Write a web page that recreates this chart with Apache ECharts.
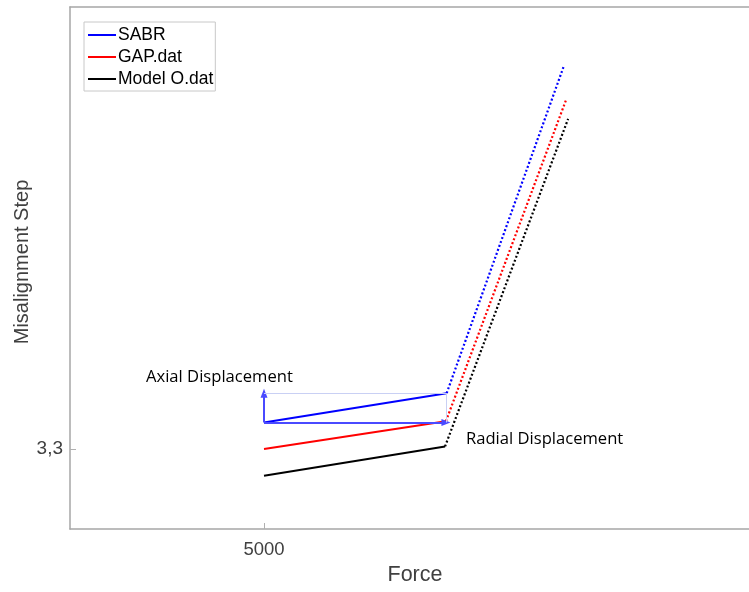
<!DOCTYPE html>
<html><head><meta charset="utf-8">
<script src="https://cdn.jsdelivr.net/npm/echarts@6/dist/echarts.min.js"></script>
<style>html,body{margin:0;padding:0;background:#fff}#c{width:749px;height:592px}</style>
</head><body><div id="c"></div><script>
// Misalignment step vs. force for three models: solid measured segment, dotted extrapolation
const seriesNames = ['SABR', 'GAP.dat', 'Model O.dat'];
const forceStart = [5000, 5000, 5000];
const forceKink = [6017, 6013, 6008];
const forceEnd = [6670, 6681, 6693];
const stepStart = [3.4, 3.3, 3.2];
const stepKink = [3.51, 3.405, 3.31];
const stepEnd = [4.74, 4.61, 4.54];
const xTickValues = [5000];
const yTickValues = [3.3];
const colors = ['#0000ff', '#ff0000', '#000000'];

const axisGray = '#a6a6a6';
const labelColor = '#404040';
const axisFont = '"Liberation Sans", Arial, sans-serif';
const annotFont = '"Open Sans", "Noto Sans", sans-serif';

const series = [];
seriesNames.forEach((name, i) => {
  series.push({
    name: name, type: 'line', symbol: 'none', z: 3,
    data: [[forceStart[i], stepStart[i]], [forceKink[i], stepKink[i]]],
    lineStyle: { color: colors[i], width: 2 }, itemStyle: { color: colors[i] }
  });
  series.push({
    name: name + ' (extrapolated)', type: 'line', symbol: 'none', z: 3,
    data: [[forceKink[i], stepKink[i]], [forceEnd[i], stepEnd[i]]],
    lineStyle: { color: colors[i], width: 2.2, type: [2, 2.2] }, itemStyle: { color: colors[i] }
  });
});

// Displacement arrows taken from the SABR segment end points
const arrowColor = '#4a4aff';
const guideColor = '#c9d0f4';
const arrowStyle = { color: arrowColor, width: 2, type: 'solid' };
const guideStyle = { color: guideColor, width: 1, type: 'solid' };
series.push({
  name: 'displacement', type: 'line', data: [], silent: true,
  markLine: {
    silent: true, animation: false, label: { show: false },
    data: [
      [{ coord: [forceStart[0], stepStart[0]], symbol: 'none', lineStyle: arrowStyle },
       { coord: [forceStart[0], stepKink[0]], symbol: 'triangle', symbolSize: [7, 9] }],
      [{ coord: [forceStart[0], stepStart[0]], symbol: 'none', lineStyle: arrowStyle },
       { coord: [forceKink[1], stepStart[0]], symbol: 'triangle', symbolSize: [7, 9] }],
      [{ coord: [forceStart[0], stepKink[0]], symbol: 'none', lineStyle: guideStyle },
       { coord: [forceKink[0], stepKink[0]], symbol: 'none' }],
      [{ coord: [forceKink[0], stepStart[0]], symbol: 'none', lineStyle: guideStyle },
       { coord: [forceKink[0], stepKink[0]], symbol: 'none' }]
    ]
  }
});

const chart = echarts.init(document.getElementById('c'), null, { renderer: 'canvas' });
chart.setOption({
  animation: false,
  backgroundColor: '#fff',
  grid: { left: 70, top: 7, right: 0, bottom: 63, containLabel: false, outerBoundsMode: 'none' },
  legend: {
    data: seriesNames, orient: 'vertical', left: 84, top: 22,
    borderColor: '#c8c8c8', borderWidth: 1, backgroundColor: '#fff',
    padding: [4, 2, 3, 3], itemWidth: 28, itemHeight: 17, itemGap: 4,
    itemStyle: { opacity: 0 },
    lineStyle: { width: 2 },
    textStyle: { fontFamily: axisFont, fontSize: 17.5, color: '#000', padding: [0, 0, 0, -3] }
  },
  xAxis: [{
    type: 'value', min: 3920, max: 7700,
    name: 'Force', nameLocation: 'middle', nameGap: 34,
    nameTextStyle: { fontFamily: axisFont, fontSize: 21.5, color: labelColor, padding: [0, 0, 0, 11] },
    axisLine: { show: true, lineStyle: { color: axisGray, width: 1.5 } },
    axisTick: { show: true, inside: true, length: 6, customValues: xTickValues, lineStyle: { color: '#b0b0b0' } },
    axisLabel: { customValues: xTickValues, margin: 11, fontFamily: axisFont, fontSize: 18.5, color: labelColor,
      formatter: v => String(v) },
    splitLine: { show: false }
  }, {
    type: 'value', position: 'top', min: 3920, max: 7700,
    axisLine: { show: true, lineStyle: { color: axisGray, width: 1.5 } },
    axisTick: { show: false }, axisLabel: { show: false }, splitLine: { show: false }
  }],
  yAxis: {
    type: 'value', min: 3.0, max: 4.96,
    name: 'Misalignment Step', nameLocation: 'middle', nameGap: 38, nameMoveOverlap: false,
    nameTextStyle: { fontFamily: axisFont, fontSize: 20, color: labelColor, padding: [0, 0, 0, 12] },
    axisLine: { show: true, lineStyle: { color: axisGray, width: 1.5 } },
    axisTick: { show: true, inside: true, length: 6, customValues: yTickValues, lineStyle: { color: '#b0b0b0' } },
    axisLabel: { customValues: yTickValues, margin: 7, fontFamily: axisFont, fontSize: 19, color: labelColor,
      formatter: v => v.toFixed(1).replace('.', ',') },
    splitLine: { show: false }
  },
  graphic: [
    { type: 'text', left: 146, top: 369, style: { text: 'Axial Displacement', font: '16.6px ' + annotFont, fill: '#000' } },
    { type: 'text', left: 466, top: 431, style: { text: 'Radial Displacement', font: '16.6px ' + annotFont, fill: '#000' } }
  ],
  series: series
});
</script></body></html>
